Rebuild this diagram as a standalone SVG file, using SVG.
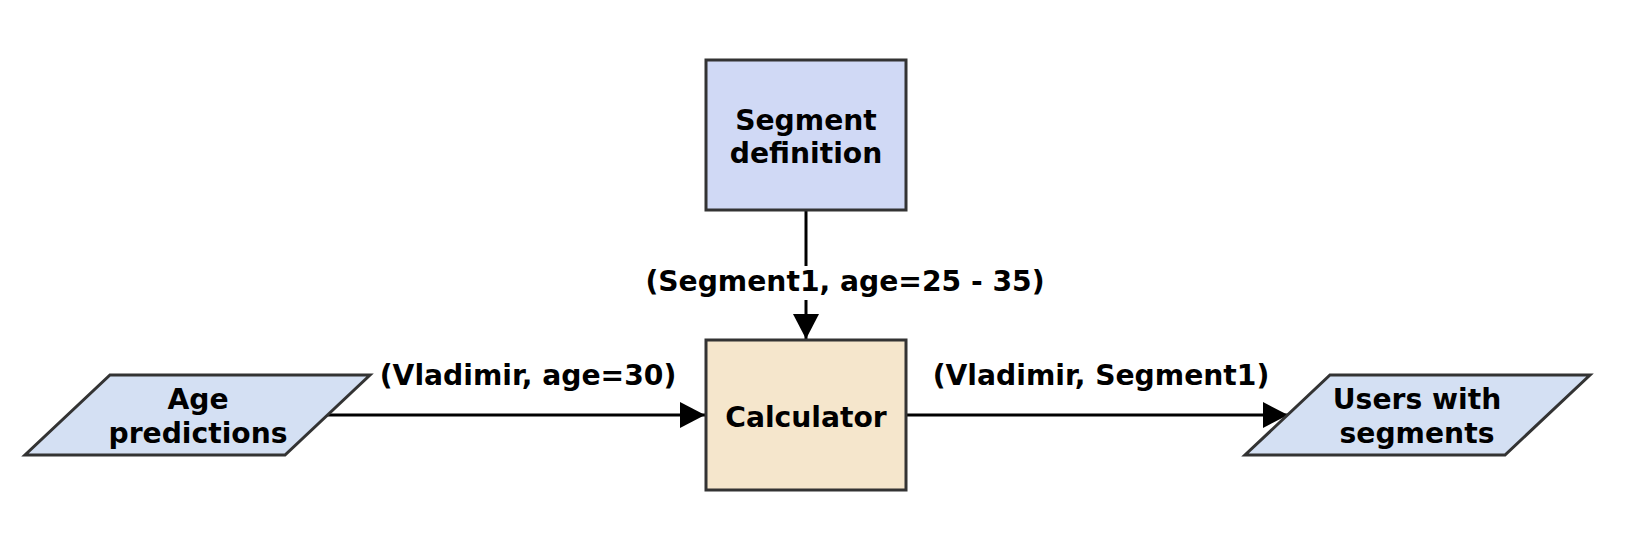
<svg xmlns="http://www.w3.org/2000/svg" width="1644" height="540" viewBox="0 0 1644 540">
<style>
.node{stroke:#333333;stroke-width:3}
.t{font-family:"DejaVu Sans",Verdana,sans-serif;font-weight:bold;font-size:28.2px;fill:#000;text-anchor:middle}
.edge{stroke:#000;stroke-width:3;fill:none}
</style>
<defs>
<marker id="ah" markerUnits="userSpaceOnUse" markerWidth="26" markerHeight="28" refX="25" refY="13" orient="auto">
<path d="M0,0 L25,13 L0,26 Z" fill="#000"/>
</marker>
</defs>
<rect width="1644" height="540" fill="#fff"/>
<g id="connectors">
<line class="edge" x1="806" y1="211" x2="806" y2="339" marker-end="url(#ah)"/>
<line class="edge" x1="327" y1="415" x2="705" y2="415" marker-end="url(#ah)"/>
<line class="edge" x1="907" y1="415" x2="1288" y2="415" marker-end="url(#ah)"/>
<rect x="645" y="266" width="402" height="34" fill="#fff"/>
<text class="t" x="845" y="291">(Segment1, age=25 - 35)</text>
<text class="t" x="528" y="385">(Vladimir, age=30)</text>
<text class="t" x="1101" y="385">(Vladimir, Segment1)</text>
</g>
<g id="segment-definition">
<rect class="node" x="706" y="60" width="200" height="150" fill="#D0D9F5"/>
<text class="t" x="806" y="130">Segment</text>
<text class="t" x="806" y="163">definition</text>
</g>
<g id="calculator">
<rect class="node" x="706" y="340" width="200" height="150" fill="#F5E6CC"/>
<text class="t" x="806" y="427">Calculator</text>
</g>
<g id="age-predictions">
<polygon class="node" points="110,375 370,375 285,455 25,455" fill="#D4E0F3"/>
<text class="t" x="198" y="409">Age</text>
<text class="t" x="198" y="443">predictions</text>
</g>
<g id="users-with-segments">
<polygon class="node" points="1330,375 1590,375 1505,455 1245,455" fill="#D4E0F3"/>
<text class="t" x="1417" y="409">Users with</text>
<text class="t" x="1417" y="443">segments</text>
</g>
</svg>
